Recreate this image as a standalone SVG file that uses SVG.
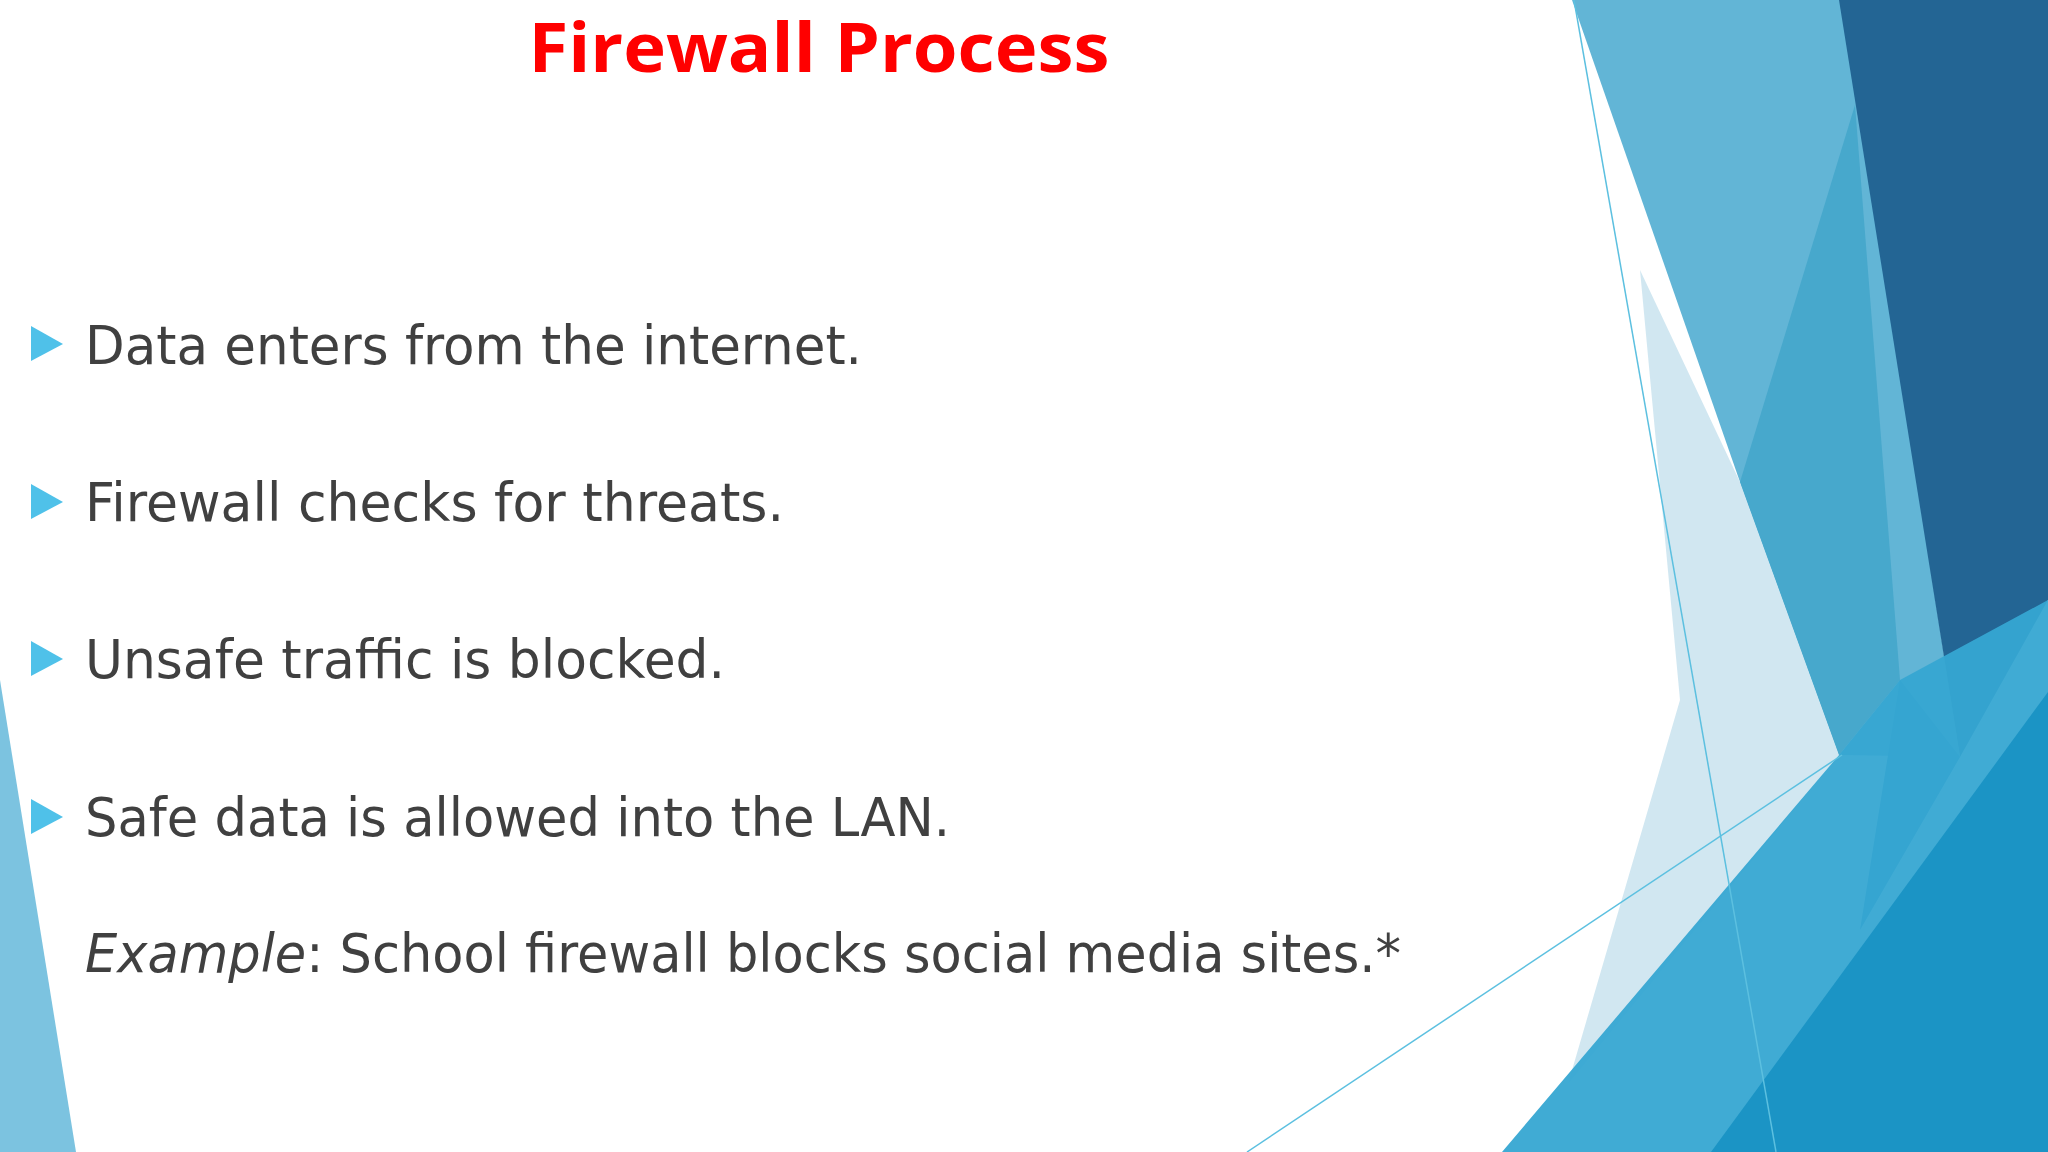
<svg xmlns="http://www.w3.org/2000/svg" width="2048" height="1152" viewBox="0 0 2048 1152">
<style>
.t{font-family:"DejaVu Sans","Liberation Sans",sans-serif;font-size:54px;fill:#404040}
.b{fill:#4fc1e9}
</style>
<rect width="2048" height="1152" fill="#fff"/>
<g id="bg">
<polygon points="1572,0 1842,0 1960,757 1839,755 1740,482" fill="#62b5d6"/>
<polygon points="1740,482 1839,755 1568,1084 1680,700 1640,270" fill="#c9e3ee" opacity="0.85"/>
<polygon points="1855,105 1900,680 1839,755 1740,482" fill="#47a8cc"/>
<polygon points="1839,0 2048,0 2048,600 1960,757" fill="#236594"/>
<polygon points="1900,680 1960,757 1860,930" fill="#2f84bc"/>
<polygon points="1502,1152 1839,755 1900,680 2048,600 2048,1152" fill="#36a7d2" opacity="0.95"/>
<polygon points="1711,1152 2048,692 2048,1152" fill="#1b94c5"/>
<polygon points="0,680 0,1152 76,1152" fill="#7cc3e0"/>
<line x1="1574" y1="0" x2="1776" y2="1152" stroke="#5cc0e0" stroke-width="1.5"/>
<line x1="1247" y1="1152" x2="1842" y2="755" stroke="#5cc0e0" stroke-width="1.5"/>
</g>
<g id="title"><text x="819" y="72" text-anchor="middle" font-family="'Open Sans','DejaVu Sans',sans-serif" font-weight="bold" font-size="68" fill="#ff0000" textLength="581" lengthAdjust="spacingAndGlyphs">Firewall Process</text></g>
<g id="bullets">
<polygon class="b" points="31,326 31,361 63,344"/>
<polygon class="b" points="31,484 31,519 63,502"/>
<polygon class="b" points="31,641 31,676 63,659"/>
<polygon class="b" points="31,799 31,834 63,817"/>
<text class="t" x="85" y="364" textLength="777" lengthAdjust="spacingAndGlyphs">Data enters from the internet.</text>
<text class="t" x="85" y="521" textLength="699" lengthAdjust="spacingAndGlyphs">Firewall checks for threats.</text>
<text class="t" x="85" y="678" textLength="640" lengthAdjust="spacingAndGlyphs">Unsafe traffic is blocked.</text>
<text class="t" x="85" y="836" textLength="865" lengthAdjust="spacingAndGlyphs">Safe data is allowed into the LAN.</text>
<text class="t" x="85" y="972" textLength="1316" lengthAdjust="spacingAndGlyphs"><tspan font-style="italic">Example</tspan>: School firewall blocks social media sites.*</text>
</g>
</svg>
